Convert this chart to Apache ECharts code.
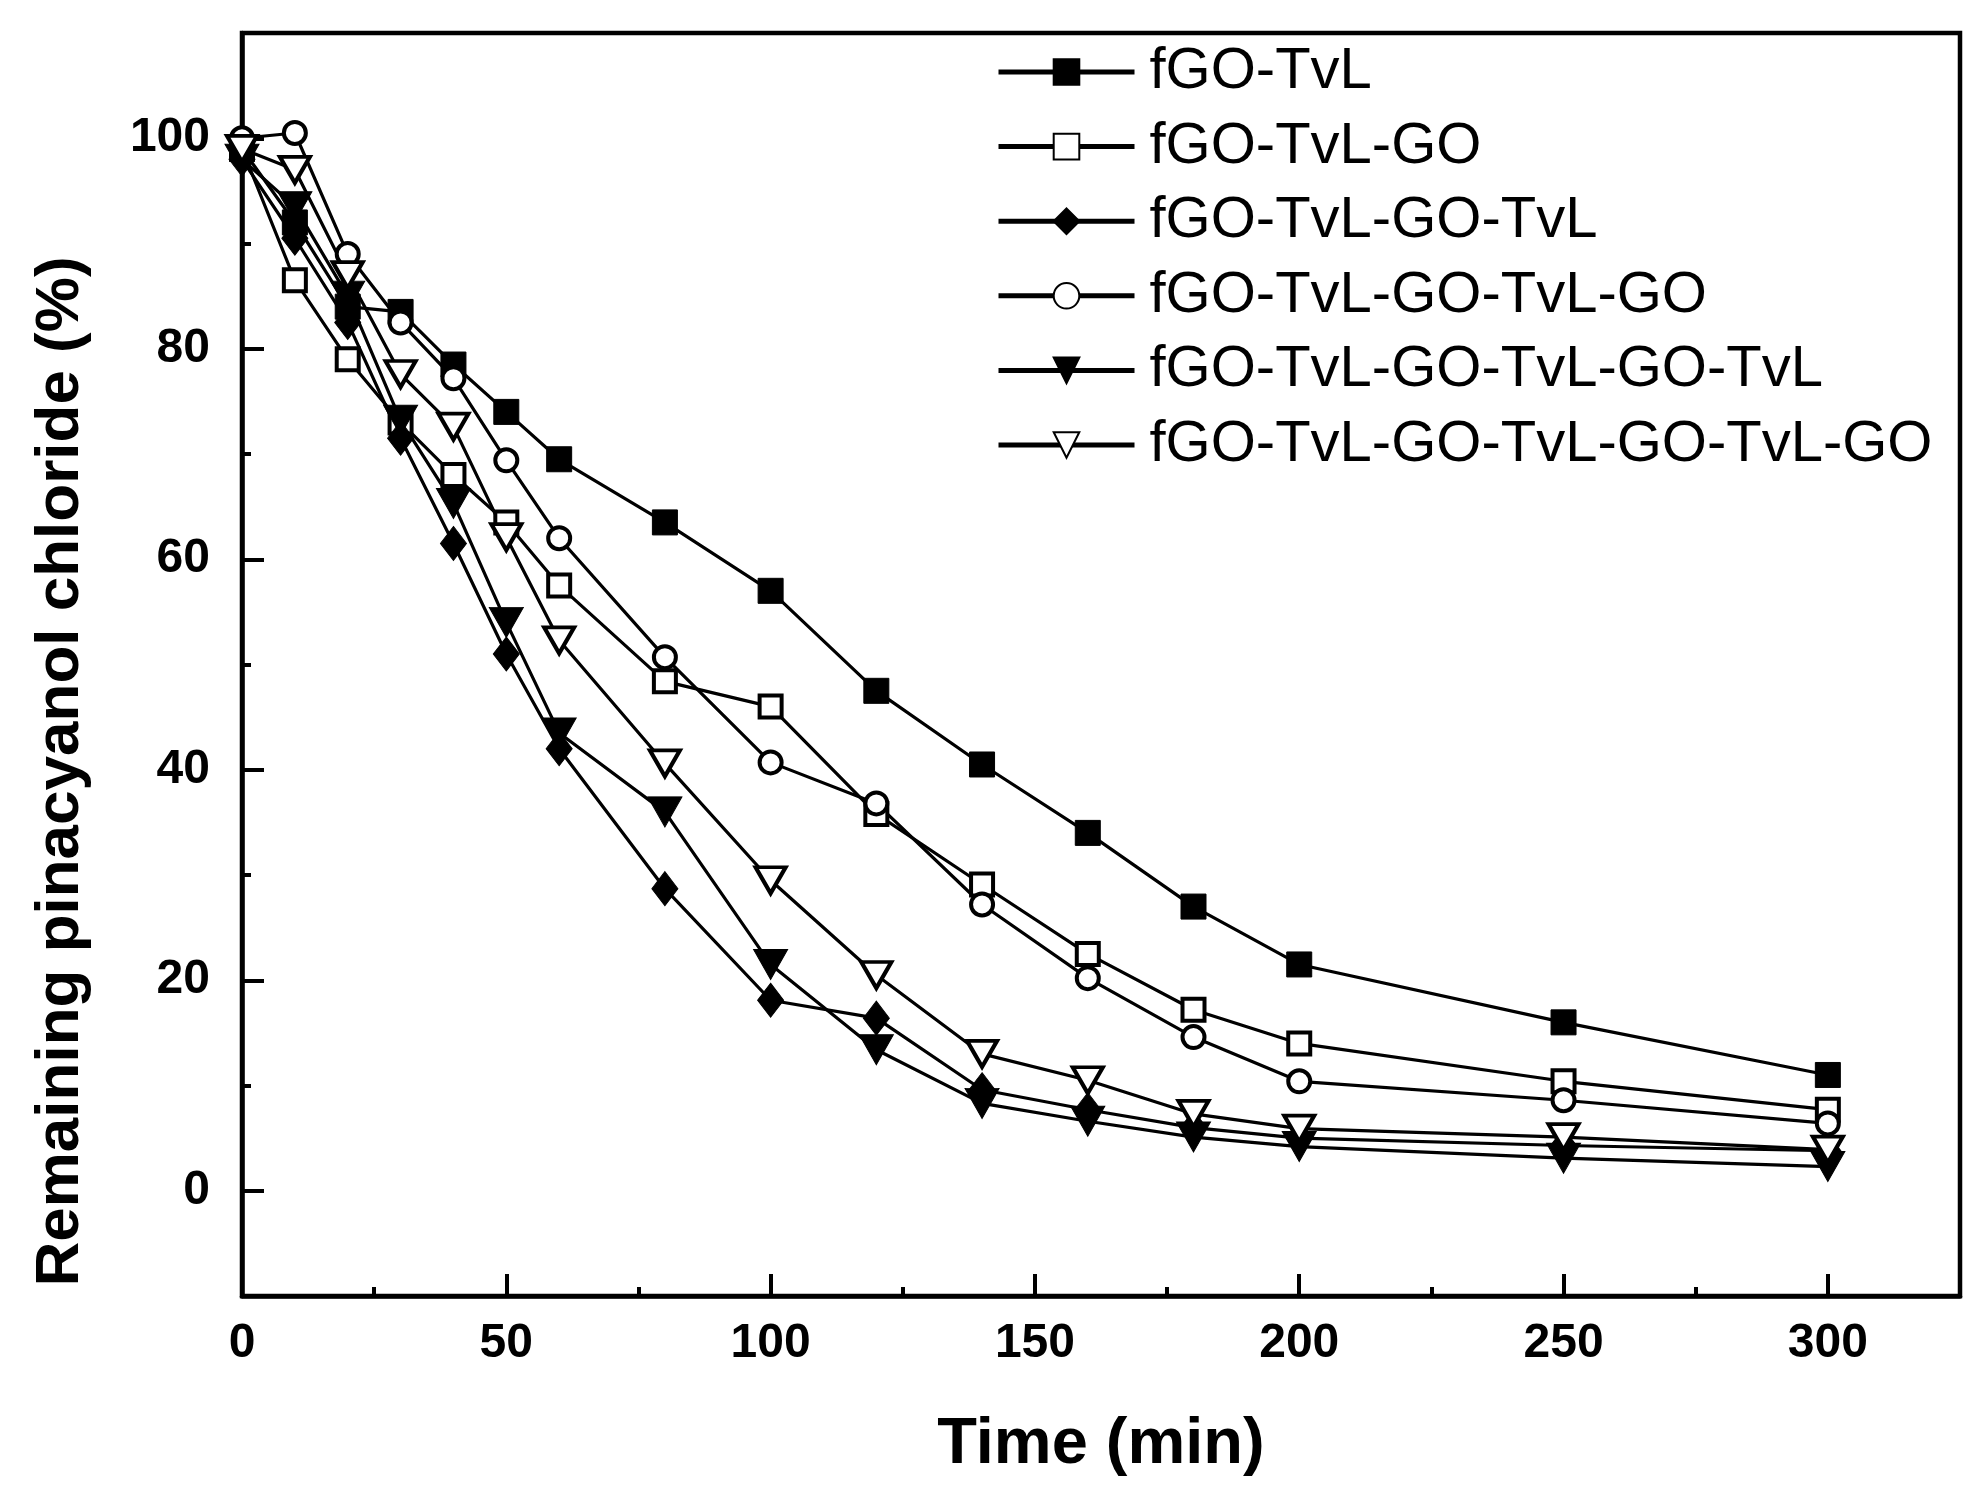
<!DOCTYPE html>
<html>
<head>
<meta charset="utf-8">
<script src="https://cdn.jsdelivr.net/npm/echarts@6/dist/echarts.min.js"></script>
<style>
  html, body { margin: 0; padding: 0; background: #fff; }
  #chart_1 { width: 1986px; height: 1501px; }
</style>
</head>
<body>
<div id="chart_1"></div>
<script>
// time points (min)
var timeArr = [0, 10, 20, 30, 40, 50, 60, 80, 100, 120, 140, 160, 180, 200, 250, 300];

// remaining pinacyanol chloride (%) for each film
var s_fGO_TvL = [99, 92, 84, 83.5, 78.5, 74, 69.5, 63.5, 57, 47.5, 40.5, 34, 27, 21.5, 16, 11];
var s_fGO_TvL_GO = [99, 86.5, 79, 73, 68, 63.5, 57.5, 48.4, 46, 35.8, 29.1, 22.5, 17.2, 14, 10.4, 7.7];
var s_2TvL = [98, 90.5, 82.5, 71.5, 61.5, 51, 42, 28.7, 18.1, 16.4, 9.6, 7.7, 6, 5, 4.3, 3.8];
var s_2TvL_GO = [100, 100.5, 89, 82.5, 77.2, 69.4, 62, 50.7, 40.7, 36.8, 27.2, 20.2, 14.6, 10.4, 8.6, 6.4];
var s_3TvL = [98, 93.5, 85, 73.2, 65.3, 54, 43.5, 36, 21.5, 13.4, 8.3, 6.6, 5.1, 4.2, 3.1, 2.3];
var s_3TvL_GO = [99, 97, 87, 77.6, 72.6, 62.1, 52.3, 40.6, 29.5, 20.5, 13, 10.5, 7.3, 5.9, 5.1, 3.9];

var seriesNames = ['fGO-TvL', 'fGO-TvL-GO', 'fGO-TvL-GO-TvL', 'fGO-TvL-GO-TvL-GO',
                   'fGO-TvL-GO-TvL-GO-TvL', 'fGO-TvL-GO-TvL-GO-TvL-GO'];

// x tick labels / y tick labels
var xTickLabels = [0, 50, 100, 150, 200, 250, 300];
var yTickLabels = [0, 20, 40, 60, 80, 100];

function pairUp(ys) {
    var out = [];
    for (var i = 0; i < timeArr.length; i++) {
        out.push([timeArr[i], ys[i]]);
    }
    return out;
}

var downTri = 'path://M0,0L10,0L5,9Z';

function makeSeries(name, ys, symbol, size, filled) {
    return {
        name: name,
        type: 'line',
        xAxisIndex: 0,
        yAxisIndex: 0,
        data: pairUp(ys),
        symbol: symbol,
        symbolSize: size,
        showAllSymbol: true,
        lineStyle: { color: '#000', width: 3.2 },
        itemStyle: filled ?
            { color: '#000', borderColor: '#000', borderWidth: 1 } :
            { color: '#fff', borderColor: '#000', borderWidth: 4 },
        emphasis: { disabled: true },
        z: 3
    };
}

var tickFont = { color: '#000', fontFamily: 'Liberation Sans, Arial', fontWeight: 'bold', fontSize: 48 };

var myChart = echarts.init(document.getElementById('chart_1'), null, { renderer: 'canvas' });

var option = {
    animation: false,
    backgroundColor: '#fff',
    grid: [
        { left: 242, right: 26, top: 33, bottom: 205, show: true,
          borderColor: '#000', borderWidth: 4.5, backgroundColor: 'transparent' },
        { left: 242, right: 26, top: 33, bottom: 205, show: false }
    ],
    legend: {
        orient: 'vertical',
        left: 991,
        top: 38,
        itemWidth: 136,
        itemHeight: 32,
        itemGap: 16.6,
        data: seriesNames,
        lineStyle: { width: 5 },
        textStyle: {
            color: '#000',
            fontFamily: 'Liberation Sans, Arial',
            fontSize: 58,
            lineHeight: 56,
            padding: [0, 0, 0, 10]
        },
        selectedMode: false
    },
    xAxis: [
        {
            type: 'value', gridIndex: 0, min: 0, max: 325, interval: 50,
            position: 'bottom',
            name: 'Time (min)',
            nameLocation: 'middle',
            nameGap: 117,
            nameTextStyle: { color: '#000', fontFamily: 'Liberation Sans, Arial', fontWeight: 'bold', fontSize: 65 },
            axisLine: { onZero: false, lineStyle: { color: '#000', width: 4.5 } },
            axisTick: { inside: true, length: 22, lineStyle: { color: '#000', width: 4 } },
            axisLabel: Object.assign({
                margin: 24,
                formatter: function (v) { return xTickLabels.indexOf(v) >= 0 ? String(v) : ''; }
            }, tickFont),
            splitLine: { show: false }
        },
        {
            type: 'value', gridIndex: 1, min: 0, max: 325, interval: 25,
            position: 'bottom',
            axisLine: { show: false, onZero: false },
            axisTick: { inside: true, length: 9, lineStyle: { color: '#000', width: 4 } },
            axisLabel: { show: false },
            splitLine: { show: false }
        }
    ],
    yAxis: [
        {
            type: 'value', gridIndex: 0, min: -10, max: 110, splitNumber: 6,
            position: 'left',
            name: 'Remaining pinacyanol chloride (%)',
            nameLocation: 'middle',
            nameGap: 150,
            nameTextStyle: {
                color: '#000', fontFamily: 'Liberation Sans, Arial',
                fontWeight: 'bold', fontSize: 62, padding: [0, 214, 0, 0]
            },
            axisLine: { onZero: false, lineStyle: { color: '#000', width: 4.5 } },
            axisTick: { inside: true, length: 22, lineStyle: { color: '#000', width: 4 } },
            axisLabel: Object.assign({
                margin: 32,
                formatter: function (v) { return yTickLabels.indexOf(v) >= 0 ? String(v) : ''; }
            }, tickFont),
            splitLine: { show: false }
        },
        {
            type: 'value', gridIndex: 1, min: -10, max: 110, interval: 10,
            position: 'left',
            axisLine: { show: false, onZero: false },
            axisTick: { inside: true, length: 9, lineStyle: { color: '#000', width: 4 } },
            axisLabel: { show: false },
            splitLine: { show: false }
        }
    ],
    series: [
        makeSeries(seriesNames[0], s_fGO_TvL, 'rect', 25, true),
        makeSeries(seriesNames[1], s_fGO_TvL_GO, 'rect', 22, false),
        makeSeries(seriesNames[2], s_2TvL, 'diamond', [26, 34], true),
        makeSeries(seriesNames[3], s_2TvL_GO, 'circle', 22, false),
        makeSeries(seriesNames[4], s_3TvL, downTri, [34, 30], true),
        makeSeries(seriesNames[5], s_3TvL_GO, downTri, [30, 26], false)
    ]
};

myChart.setOption(option);
</script>
</body>
</html>
